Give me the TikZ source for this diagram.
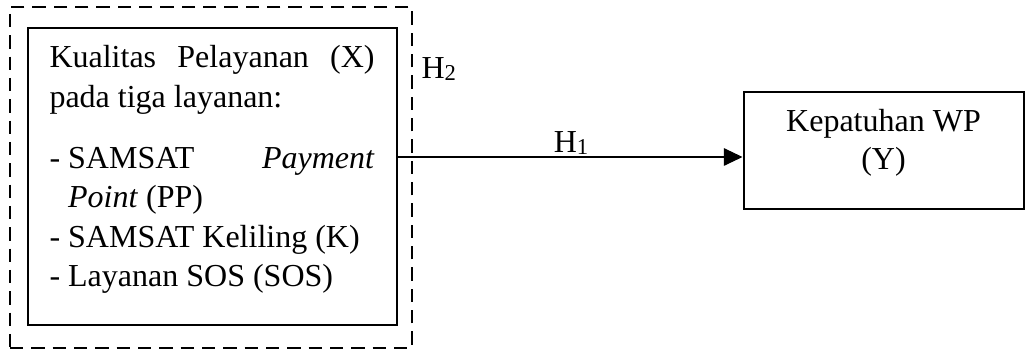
\documentclass[tikz,border=0pt]{standalone}
\usepackage{fontspec}
\setmainfont{Liberation Serif}
\usetikzlibrary{arrows.meta}

\newcommand{\lowidx}[1]{\raisebox{-0.7pt}{\fontsize{8.5}{8.5}\selectfont #1}}

\tikzset{
  solidbox/.style={draw, line width=0.75pt, rectangle, inner sep=0pt},
  hypbox/.style={draw, line width=0.75pt, rectangle, inner sep=0pt,
    dash pattern=on 5pt off 3pt},
  link/.style={line width=0.4pt, -{Triangle[length=7pt,width=6.6pt]}},
  hlabel/.style={inner sep=0pt, font=\fontsize{12}{14.8}\selectfont}
}

\begin{document}
\begin{tikzpicture}[x=0.375pt, y=-0.375pt, font=\fontsize{12}{14.8}\selectfont]
  \useasboundingbox (0,0) rectangle (1025,351);

  % dashed frame around the independent variable (H2)
  \node[hypbox, minimum width=402*0.375pt, minimum height=341*0.375pt]
    (frame) at (211,177.5) {};

  % independent variable box
  \node[solidbox, minimum width=369*0.375pt, minimum height=297*0.375pt]
    (xbox) at (212.5,176.5) {};
  \node[anchor=base west, inner sep=0pt] (xtext) at (49,68) {%
    \parbox[t]{121.9pt}{\baselineskip=14.8pt\parindent=0pt
      \hbox to\linewidth{Kualitas\hfill Pelayanan\hfill (X)}
      \hbox{pada tiga layanan:}
      \vskip 8pt
      \hbox to\linewidth{- SAMSAT\hfill\textit{Payment}}
      \hbox{\hphantom{- }\textit{Point} (PP)}
      \hbox{- SAMSAT Keliling (K)}
      \hbox{- Layanan SOS (SOS)}}};

  % dependent variable box
  \node[solidbox, minimum width=280*0.375pt, minimum height=117*0.375pt]
    (ybox) at (883.5,150.5) {};
  \node[anchor=base, inner sep=0pt] (ytext1) at (883.5,132) {Kepatuhan WP};
  \node[anchor=base, inner sep=0pt] (ytext2) at (883.5,170) {(Y)};

  % H1 connector
  \coordinate (h1level) at (570,157);
  \draw[link] (xbox.east |- h1level) -- (ybox.west |- h1level);
  \node[hlabel, anchor=base] (h1) at (571,153) {H\lowidx{1}};

  % H2 label beside the frame
  \node[hlabel, anchor=base west] (h2) at (421,79) {H\lowidx{2}};
\end{tikzpicture}
\end{document}
